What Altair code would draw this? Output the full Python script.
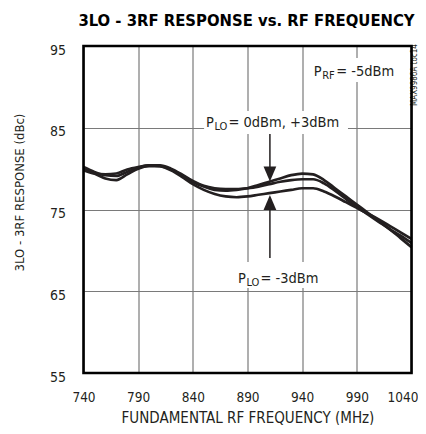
import altair as alt
import pandas as pd

# ---- data ----
freq = [740, 750, 760, 770, 780, 790, 800, 810, 820, 830, 840, 850, 860, 870, 880, 890,
        900, 910, 920, 930, 940, 950, 960, 970, 980, 990, 1000, 1010, 1020, 1030, 1040]
plo_0 = [80.0, 79.4, 78.8, 78.6, 79.3, 80.0, 80.3, 80.3, 79.9, 79.2, 78.4, 77.8, 77.4, 77.3, 77.4, 77.6,
         78.0, 78.4, 78.8, 79.2, 79.4, 79.3, 78.6, 77.6, 76.6, 75.6, 74.6, 73.6, 72.6, 71.5, 70.4]
plo_3 = [80.2, 79.6, 79.2, 79.1, 79.6, 80.1, 80.4, 80.4, 80.0, 79.3, 78.5, 77.9, 77.6, 77.5, 77.5, 77.6,
         77.8, 78.1, 78.4, 78.6, 78.7, 78.7, 78.2, 77.3, 76.3, 75.3, 74.4, 73.5, 72.6, 71.8, 70.9]
plo_m3 = [79.8, 79.4, 79.3, 79.4, 79.9, 80.2, 80.4, 80.3, 79.8, 79.0, 78.1, 77.4, 76.9, 76.6, 76.5, 76.6,
          76.8, 77.0, 77.2, 77.4, 77.6, 77.6, 77.2, 76.6, 75.9, 75.2, 74.5, 73.8, 73.0, 72.2, 71.4]

x_ticks = [740, 790, 840, 890, 940, 990, 1040]
y_ticks = [55, 65, 75, 85, 95]

FONT = "DejaVu Sans Condensed, Liberation Sans Narrow, Roboto, sans-serif"
INK = "#231f20"

rows = []
for name, vals in [("0dBm", plo_0), ("+3dBm", plo_3), ("-3dBm", plo_m3)]:
    for f, v in zip(freq, vals):
        rows.append({"freq": f, "resp": v, "series": name})
df = pd.DataFrame(rows)

xs = alt.Scale(domain=[740, 1040], nice=False, zero=False)
ys = alt.Scale(domain=[55, 95], nice=False, zero=False)

lines = alt.Chart(df).mark_line(color=INK, strokeWidth=2.7, interpolate="monotone").encode(
    x=alt.X("freq:Q", scale=xs,
            axis=alt.Axis(values=x_ticks, format="d", grid=True, gridColor="#7a7a7a",
                          gridWidth=1.2, ticks=False, domain=False, labelFont=FONT,
                          labelFontSize=13.5, labelColor=INK, labelPadding=17,
                          labelFlush=False,
                          labelOffset={"expr": "datum.value == 1040 ? -9 : 0"},
                          title="FUNDAMENTAL RF FREQUENCY (MHz)", titleFont=FONT,
                          titleFontSize=15, titleFontWeight="normal", titleColor=INK,
                          titleBaseline="middle", titleY=44)),
    y=alt.Y("resp:Q", scale=ys,
            axis=alt.Axis(values=y_ticks, format="d", grid=True, gridColor="#7a7a7a",
                          gridWidth=1.2, ticks=False, domain=False, labelFont=FONT,
                          labelFontSize=14, labelColor=INK, labelPadding=18, labelOffset=4,
                          labelFlush=False,
                          title="3LO - 3RF RESPONSE (dBc)", titleFont=FONT,
                          titleFontSize=13, titleFontWeight="normal", titleColor=INK,
                          titleX=-64, titleY=146, titleAngle=270, titleBaseline="middle")),
    detail="series:N",
)

# white boxes behind annotation texts
boxes = pd.DataFrame({
    "x": [850.3, 877.7, 948.0],
    "x2": [981.9, 960.0, 1033.0],
    "y": [87.05, 68.58, 93.53],
    "y2": [84.24, 65.40, 90.60],
})
box_layer = alt.Chart(boxes).mark_rect(fill="white").encode(
    x="x:Q", x2="x2", y="y:Q", y2="y2")

# arrows
arrow_lines = pd.DataFrame({"x": [910.5, 910.5], "y": [84.24, 75.55], "y2": [79.95, 69.07]})
arrow_rule = alt.Chart(arrow_lines).mark_rule(color=INK, strokeWidth=1.5).encode(
    x="x:Q", y="y:Q", y2="y2")
heads = pd.DataFrame({"x": [910.5, 910.5], "y": [79.33, 75.86], "dir": ["down", "up"]})
head_down = alt.Chart(heads[heads.dir == "down"]).mark_point(
    shape="M-0.85,-1L0.85,-1L0,1Z", size=225, filled=True, color=INK, opacity=1).encode(
    x="x:Q", y="y:Q")
head_up = alt.Chart(heads[heads.dir == "up"]).mark_point(
    shape="M-0.85,1L0.85,1L0,-1Z", size=225, filled=True, color=INK, opacity=1).encode(
    x="x:Q", y="y:Q")

# annotation texts: (x, y baseline, main, sub, rest)
ann = [
    (852.0, 85.09, "P", "LO", " = 0dBm, +3dBm"),
    (881.3, 66.01, "P", "LO", " = -3dBm"),
    (950.5, 91.30, "P", "RF", " = -5dBm"),
]
text_layers = []
for ax, ay, p, sub, rest in ann:
    d = pd.DataFrame({"x": [ax], "y": [ay]})
    text_layers.append(alt.Chart(d).mark_text(text=p, align="left", baseline="alphabetic",
        font=FONT, fontSize=14.5, color=INK).encode(x="x:Q", y="y:Q"))
    text_layers.append(alt.Chart(d).mark_text(text=sub, align="left", baseline="alphabetic",
        font=FONT, fontSize=11, color=INK, dx=8.5, dy=3).encode(x="x:Q", y="y:Q"))
    text_layers.append(alt.Chart(d).mark_text(text=rest, align="left", baseline="alphabetic",
        font=FONT, fontSize=14.5, color=INK, dx=22.5).encode(x="x:Q", y="y:Q"))

toc = pd.DataFrame({"x": [1043.2], "y": [91.45], "t": ["MAX9986A toc14"]})
toc_layer = alt.Chart(toc).mark_text(angle=270, font=FONT, fontSize=8, color=INK,
    align="center", baseline="middle").encode(x="x:Q", y="y:Q", text="t:N")

frame = pd.DataFrame({"x": [740], "x2": [1040], "y": [55], "y2": [95]})
frame_layer = alt.Chart(frame).mark_rect(fill=None, stroke="black", strokeWidth=2.6).encode(
    x="x:Q", x2="x2", y="y:Q", y2="y2")

chart = alt.layer(box_layer, lines, arrow_rule, head_down, head_up, *text_layers,
                  toc_layer, frame_layer).properties(
    width=328, height=327,
    title=alt.TitleParams("3LO - 3RF RESPONSE vs. RF FREQUENCY", font=FONT, fontSize=16.5,
                          fontWeight="bold", color="black", offset=6, dx=-1,
                          baseline="middle"),
    autosize=alt.AutoSizeParams(type="none"),
    padding={"left": 75.5, "top": 38, "right": 6, "bottom": 52},
).configure_view(stroke=None)

chart.save("out.html", embed_options={"renderer": "svg", "actions": False})
